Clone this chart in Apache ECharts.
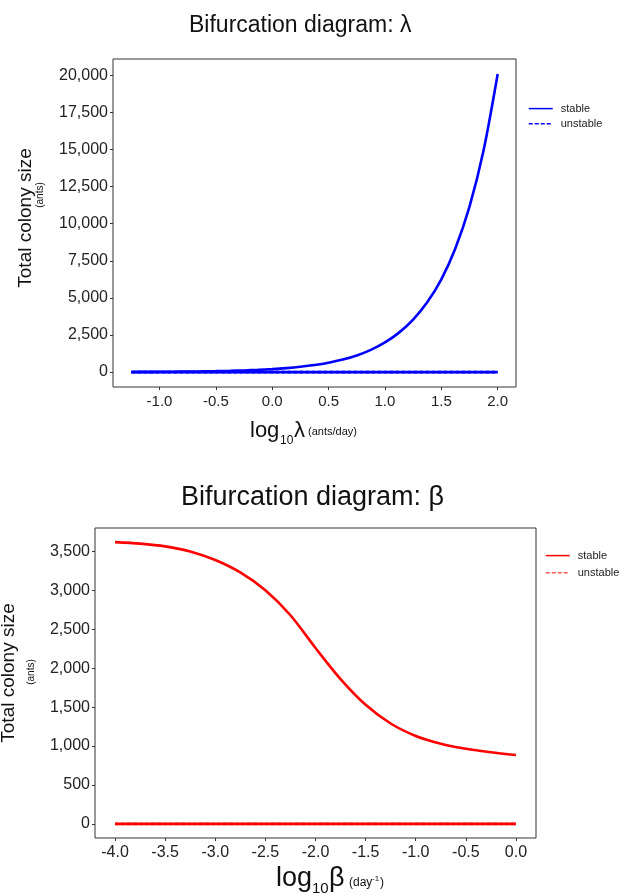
<!DOCTYPE html>
<html>
<head>
<meta charset="utf-8">
<script src="https://cdn.jsdelivr.net/npm/echarts@6/dist/echarts.min.js"></script>
<style>
  html, body { margin: 0; padding: 0; background: #fff; }
  #top { position: absolute; left: 0; top: 0; width: 634px; height: 460px; }
  #bottom { position: absolute; left: 0; top: 460px; width: 634px; height: 434px; }
</style>
</head>
<body>
<div id="top"></div>
<div id="bottom"></div>
<script>
// log10(lambda) and stable colony size (upper branch)
const lambdaLog = [-1.25, -1.125, -1.0, -0.875, -0.75, -0.625, -0.5, -0.375, -0.25, -0.125, 0,
  0.125, 0.25, 0.375, 0.5, 0.625, 0.75, 0.875, 1.0, 1.125, 1.25, 1.375, 1.5, 1.625, 1.75, 1.875, 2.0];
const lambdaStable = [11, 15, 20, 27, 36, 47, 63, 84, 112, 150, 200,
  267, 356, 474, 632, 843, 1125, 1500, 2000, 2660, 3540, 4700, 6250, 8350, 11150, 14950, 20100];
// trivial branch (extinction) for lambda
const lambdaZeroLog = [-1.25, 2.0];
const lambdaZero = [0, 0];

// log10(beta) and stable colony size
const betaLog = [-4.0, -3.75, -3.5, -3.25, -3.0, -2.75, -2.5, -2.25, -2.0, -1.75, -1.5,
  -1.25, -1.0, -0.75, -0.5, -0.25, 0];
const betaStable = [3620, 3600, 3565, 3500, 3390, 3230, 3000, 2680, 2260, 1860, 1530,
  1290, 1130, 1030, 965, 920, 885];
const betaZeroLog = [-4.0, 0];
const betaZero = [0, 0];

// tick labels
const lambdaTicksX = [-1.0, -0.5, 0.0, 0.5, 1.0, 1.5, 2.0];
const lambdaTicksY = [0, 2500, 5000, 7500, 10000, 12500, 15000, 17500, 20000];
const betaTicksX = [-4.0, -3.5, -3.0, -2.5, -2.0, -1.5, -1.0, -0.5, 0.0];
const betaTicksY = [0, 500, 1000, 1500, 2000, 2500, 3000, 3500];

const FONT = '"Liberation Sans", Arial, sans-serif';
const pairs = (xs, ys) => xs.map((x, i) => [x, ys[i]]);

function makeOption(cfg) {
  return {
    animation: false,
    textStyle: { fontFamily: FONT },
    title: {
      text: cfg.title, left: cfg.titleLeft, top: cfg.titleTop,
      textStyle: { fontFamily: FONT, fontWeight: 'normal', fontSize: cfg.titleSize, color: '#111' }
    },
    legend: {
      orient: 'vertical', left: cfg.legendLeft, top: cfg.legendTop,
      itemWidth: 24, itemHeight: 14, itemGap: cfg.legendGap, padding: 0,
      data: ['stable', 'unstable'],
      itemStyle: { opacity: 0 },
      lineStyle: { width: 1.5 },
      textStyle: { fontFamily: FONT, fontSize: 11, color: '#222', padding: [0, 0, 0, 3] }
    },
    grid: {
      left: cfg.grid[0], top: cfg.grid[1], width: cfg.grid[2], height: cfg.grid[3],
      show: true, borderColor: '#333', borderWidth: 1
    },
    xAxis: {
      type: 'value', min: cfg.xMin, max: cfg.xMax,
      axisLine: { show: false, onZero: false },
      splitLine: { show: false },
      axisTick: { show: true, length: 3, customValues: cfg.xTicks, lineStyle: { color: '#333' } },
      axisLabel: {
        customValues: cfg.xTicks, margin: 7, fontSize: cfg.xLabelSize, color: '#222', fontFamily: FONT,
        formatter: v => v.toFixed(1)
      }
    },
    yAxis: {
      type: 'value', min: cfg.yMin, max: cfg.yMax,
      axisLine: { show: false, onZero: false },
      splitLine: { show: false },
      axisTick: { show: true, length: 3, customValues: cfg.yTicks, lineStyle: { color: '#333' } },
      axisLabel: {
        customValues: cfg.yTicks, margin: 5, fontSize: 16, color: '#222', fontFamily: FONT,
        formatter: v => v.toLocaleString('en-US')
      }
    },
    series: [
      {
        name: 'stable', type: 'line', data: pairs(cfg.xs, cfg.ys), showSymbol: false, symbol: 'none',
        smooth: 0.3, lineStyle: { color: cfg.color, width: 2.6 }, itemStyle: { color: cfg.color }
      },
      {
        name: 'stable', type: 'line', data: pairs(cfg.zx, cfg.zy), showSymbol: false, symbol: 'none',
        lineStyle: { color: cfg.color, width: 2.8 }, itemStyle: { color: cfg.color }
      },
      {
        name: 'unstable', type: 'line', data: pairs(cfg.zx, cfg.zy), showSymbol: false, symbol: 'none',
        lineStyle: { color: cfg.dashColor, width: 2.8, type: [4, 2] }, itemStyle: { color: cfg.dashColor }
      }
    ],
    graphic: cfg.graphic
  };
}

function txt(text, x, y, size) {
  return {
    type: 'text', x: x, y: y, silent: true,
    style: { text: text, fontSize: size, fontFamily: FONT, fill: '#111', align: 'left', verticalAlign: 'middle' }
  };
}
function vtxt(text, x, y, size) {
  return {
    type: 'text', x: x, y: y, rotation: Math.PI / 2, silent: true,
    style: { text: text, fontSize: size, fontFamily: FONT, fill: '#111', align: 'center', verticalAlign: 'middle' }
  };
}

const topChart = echarts.init(document.getElementById('top'));
topChart.setOption(makeOption({
  title: 'Bifurcation diagram: λ', titleLeft: 184, titleTop: 9, titleSize: 23,
  legendLeft: 528, legendTop: 103, legendGap: 4,
  grid: [113, 59, 403, 328],
  xMin: -1.4125, xMax: 2.1625, yMin: -1005, yMax: 21105,
  xTicks: lambdaTicksX, yTicks: lambdaTicksY, xLabelSize: 15,
  xs: lambdaLog, ys: lambdaStable, zx: lambdaZeroLog, zy: lambdaZero,
  color: '#0000ff', dashColor: '#0000ff',
  graphic: [
    vtxt('Total colony size', 26, 218, 19),
    vtxt('(ants)', 40, 195, 10),
    txt('log', 250, 431, 22),
    txt('10', 280, 441, 12),
    txt('λ', 294, 431, 22),
    txt('(ants/day)', 308, 432, 11)
  ]
}));

const bottomChart = echarts.init(document.getElementById('bottom'));
bottomChart.setOption(makeOption({
  title: 'Bifurcation diagram: β', titleLeft: 176, titleTop: 19, titleSize: 27,
  legendLeft: 545, legendTop: 90, legendGap: 6,
  grid: [95, 68, 441, 310],
  xMin: -4.2, xMax: 0.2, yMin: -181, yMax: 3801,
  xTicks: betaTicksX, yTicks: betaTicksY, xLabelSize: 16,
  xs: betaLog, ys: betaStable, zx: betaZeroLog, zy: betaZero,
  color: '#ff0000', dashColor: 'rgba(255,0,0,0.65)',
  graphic: [
    vtxt('Total colony size', 9, 213, 19),
    vtxt('(ants)', 31, 212, 10),
    txt('log', 276, 419, 27),
    txt('10', 312, 429, 15),
    txt('β', 329, 419, 27),
    txt('(day', 349, 423, 12),
    txt('-1', 372, 419, 8),
    txt(')', 380, 423, 12)
  ]
}));
</script>
</body>
</html>
